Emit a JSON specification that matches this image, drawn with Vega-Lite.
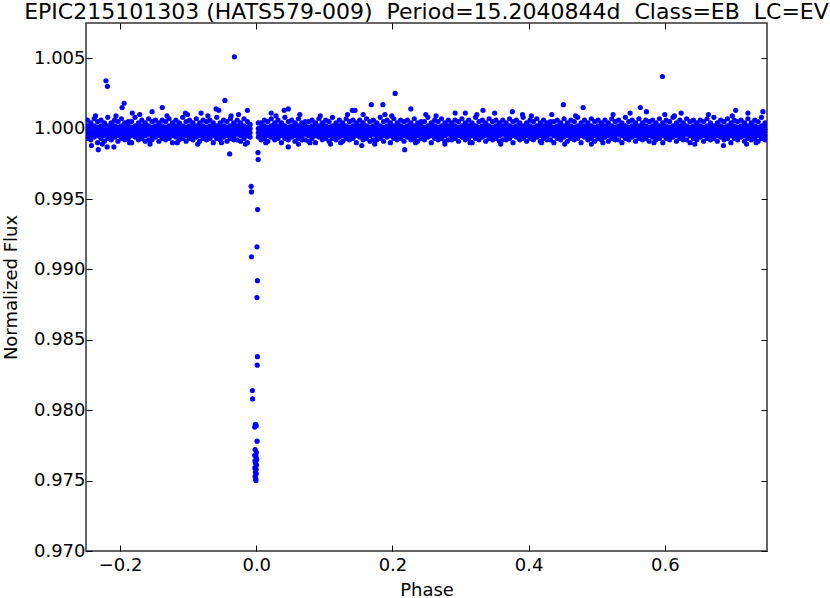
{
"$schema":"https://vega.github.io/schema/vega-lite/v6.json",
"width":681,"height":528,"autosize":"none",
"padding":{"left":86,"top":23,"right":63,"bottom":47},
"background":"white",
"title":{"text":"EPIC215101303 (HATS579-009) \u00a0Period=15.2040844d \u00a0Class=EB \u00a0LC=EV","font":"DejaVu Sans","fontSize":22,"fontWeight":"normal","color":"black","anchor":"middle","frame":"group","baseline":"alphabetic","offset":6,"dy":24},
"config":{"view":{"stroke":"#333333","strokeWidth":1.5},
"axis":{"domain":false,"grid":false,"tickColor":"black","tickSize":-6,"tickWidth":1,"labelFont":"DejaVu Sans","labelFontSize":18,"labelColor":"black","titleFont":"DejaVu Sans","titleFontSize":18,"titleFontWeight":"normal","titleColor":"black"}},
"datasets":{
"frame":[{"x":0.25,"y":1.0}],
"pts":[
{"x":-0.248,"y":1.0006},{"x":-0.248,"y":1.0002},{"x":-0.248,"y":0.9999},{"x":-0.248,"y":0.9996},{"x":-0.248,"y":0.9993},
{"x":-0.243,"y":1.0004},{"x":-0.243,"y":1.0001},{"x":-0.243,"y":0.9998},{"x":-0.243,"y":0.9995},{"x":-0.243,"y":0.9992},
{"x":-0.238,"y":1.0007},{"x":-0.238,"y":1.0002},{"x":-0.238,"y":0.9999},{"x":-0.238,"y":0.9996},{"x":-0.238,"y":0.9994},
{"x":-0.233,"y":1.0005},{"x":-0.233,"y":1.0001},{"x":-0.233,"y":0.9998},{"x":-0.233,"y":0.9995},{"x":-0.233,"y":0.9990},
{"x":-0.228,"y":1.0006},{"x":-0.228,"y":1.0002},{"x":-0.228,"y":0.9999},{"x":-0.228,"y":0.9996},{"x":-0.228,"y":0.9993},
{"x":-0.223,"y":1.0004},{"x":-0.223,"y":1.0001},{"x":-0.223,"y":0.9998},{"x":-0.223,"y":0.9995},{"x":-0.223,"y":0.9991},
{"x":-0.218,"y":1.0008},{"x":-0.218,"y":1.0002},{"x":-0.218,"y":0.9999},{"x":-0.218,"y":0.9996},{"x":-0.218,"y":0.9993},
{"x":-0.213,"y":1.0004},{"x":-0.213,"y":1.0001},{"x":-0.213,"y":0.9998},{"x":-0.213,"y":0.9995},{"x":-0.213,"y":0.9992},
{"x":-0.208,"y":1.0006},{"x":-0.208,"y":1.0002},{"x":-0.208,"y":0.9999},{"x":-0.208,"y":0.9996},{"x":-0.208,"y":0.9994},
{"x":-0.203,"y":1.0005},{"x":-0.203,"y":1.0001},{"x":-0.203,"y":0.9998},{"x":-0.203,"y":0.9995},{"x":-0.203,"y":0.9991},
{"x":-0.198,"y":1.0007},{"x":-0.198,"y":1.0002},{"x":-0.198,"y":0.9999},{"x":-0.198,"y":0.9996},{"x":-0.198,"y":0.9993},
{"x":-0.193,"y":1.0004},{"x":-0.193,"y":1.0001},{"x":-0.193,"y":0.9998},{"x":-0.193,"y":0.9995},{"x":-0.193,"y":0.9992},
{"x":-0.188,"y":1.0005},{"x":-0.188,"y":1.0002},{"x":-0.188,"y":0.9999},{"x":-0.188,"y":0.9996},{"x":-0.188,"y":0.9993},
{"x":-0.183,"y":1.0005},{"x":-0.183,"y":1.0001},{"x":-0.183,"y":0.9998},{"x":-0.183,"y":0.9995},{"x":-0.183,"y":0.9990},
{"x":-0.178,"y":1.0008},{"x":-0.178,"y":1.0002},{"x":-0.178,"y":0.9999},{"x":-0.178,"y":0.9996},{"x":-0.178,"y":0.9994},
{"x":-0.173,"y":1.0004},{"x":-0.173,"y":1.0001},{"x":-0.173,"y":0.9998},{"x":-0.173,"y":0.9995},{"x":-0.173,"y":0.9992},
{"x":-0.168,"y":1.0006},{"x":-0.168,"y":1.0002},{"x":-0.168,"y":0.9999},{"x":-0.168,"y":0.9996},{"x":-0.168,"y":0.9993},
{"x":-0.163,"y":1.0004},{"x":-0.163,"y":1.0001},{"x":-0.163,"y":0.9998},{"x":-0.163,"y":0.9995},{"x":-0.163,"y":0.9991},
{"x":-0.158,"y":1.0007},{"x":-0.158,"y":1.0002},{"x":-0.158,"y":0.9999},{"x":-0.158,"y":0.9996},{"x":-0.158,"y":0.9992},
{"x":-0.153,"y":1.0005},{"x":-0.153,"y":1.0001},{"x":-0.153,"y":0.9998},{"x":-0.153,"y":0.9995},{"x":-0.153,"y":0.9992},
{"x":-0.148,"y":1.0006},{"x":-0.148,"y":1.0002},{"x":-0.148,"y":0.9999},{"x":-0.148,"y":0.9996},{"x":-0.148,"y":0.9994},
{"x":-0.143,"y":1.0004},{"x":-0.143,"y":1.0001},{"x":-0.143,"y":0.9998},{"x":-0.143,"y":0.9995},{"x":-0.143,"y":0.9991},
{"x":-0.138,"y":1.0006},{"x":-0.138,"y":1.0002},{"x":-0.138,"y":0.9999},{"x":-0.138,"y":0.9996},{"x":-0.138,"y":0.9993},
{"x":-0.133,"y":1.0005},{"x":-0.133,"y":1.0001},{"x":-0.133,"y":0.9998},{"x":-0.133,"y":0.9995},{"x":-0.133,"y":0.9992},
{"x":-0.128,"y":1.0007},{"x":-0.128,"y":1.0002},{"x":-0.128,"y":0.9999},{"x":-0.128,"y":0.9996},{"x":-0.128,"y":0.9993},
{"x":-0.123,"y":1.0004},{"x":-0.123,"y":1.0001},{"x":-0.123,"y":0.9998},{"x":-0.123,"y":0.9995},{"x":-0.123,"y":0.9990},
{"x":-0.118,"y":1.0006},{"x":-0.118,"y":1.0002},{"x":-0.118,"y":0.9999},{"x":-0.118,"y":0.9996},{"x":-0.118,"y":0.9994},
{"x":-0.113,"y":1.0004},{"x":-0.113,"y":1.0001},{"x":-0.113,"y":0.9998},{"x":-0.113,"y":0.9995},{"x":-0.113,"y":0.9992},
{"x":-0.108,"y":1.0008},{"x":-0.108,"y":1.0002},{"x":-0.108,"y":0.9999},{"x":-0.108,"y":0.9996},{"x":-0.108,"y":0.9993},
{"x":-0.103,"y":1.0005},{"x":-0.103,"y":1.0001},{"x":-0.103,"y":0.9998},{"x":-0.103,"y":0.9995},{"x":-0.103,"y":0.9991},
{"x":-0.098,"y":1.0006},{"x":-0.098,"y":1.0002},{"x":-0.098,"y":0.9999},{"x":-0.098,"y":0.9996},{"x":-0.098,"y":0.9993},
{"x":-0.093,"y":1.0004},{"x":-0.093,"y":1.0001},{"x":-0.093,"y":0.9998},{"x":-0.093,"y":0.9995},{"x":-0.093,"y":0.9992},
{"x":-0.088,"y":1.0007},{"x":-0.088,"y":1.0002},{"x":-0.088,"y":0.9999},{"x":-0.088,"y":0.9996},{"x":-0.088,"y":0.9994},
{"x":-0.083,"y":1.0004},{"x":-0.083,"y":1.0001},{"x":-0.083,"y":0.9998},{"x":-0.083,"y":0.9995},{"x":-0.083,"y":0.9991},
{"x":-0.078,"y":1.0006},{"x":-0.078,"y":1.0002},{"x":-0.078,"y":0.9999},{"x":-0.078,"y":0.9996},{"x":-0.078,"y":0.9993},
{"x":-0.073,"y":1.0005},{"x":-0.073,"y":1.0001},{"x":-0.073,"y":0.9998},{"x":-0.073,"y":0.9995},{"x":-0.073,"y":0.9992},
{"x":-0.068,"y":1.0006},{"x":-0.068,"y":1.0002},{"x":-0.068,"y":0.9999},{"x":-0.068,"y":0.9996},{"x":-0.068,"y":0.9993},
{"x":-0.063,"y":1.0004},{"x":-0.063,"y":1.0001},{"x":-0.063,"y":0.9998},{"x":-0.063,"y":0.9995},{"x":-0.063,"y":0.9990},
{"x":-0.058,"y":1.0008},{"x":-0.058,"y":1.0002},{"x":-0.058,"y":0.9999},{"x":-0.058,"y":0.9996},{"x":-0.058,"y":0.9993},
{"x":-0.053,"y":1.0004},{"x":-0.053,"y":1.0001},{"x":-0.053,"y":0.9998},{"x":-0.053,"y":0.9995},{"x":-0.053,"y":0.9992},
{"x":-0.048,"y":1.0006},{"x":-0.048,"y":1.0002},{"x":-0.048,"y":0.9999},{"x":-0.048,"y":0.9996},{"x":-0.048,"y":0.9994},
{"x":-0.043,"y":1.0005},{"x":-0.043,"y":1.0001},{"x":-0.043,"y":0.9998},{"x":-0.043,"y":0.9995},{"x":-0.043,"y":0.9991},
{"x":-0.038,"y":1.0007},{"x":-0.038,"y":1.0002},{"x":-0.038,"y":0.9999},{"x":-0.038,"y":0.9996},{"x":-0.038,"y":0.9993},
{"x":-0.033,"y":1.0004},{"x":-0.033,"y":1.0001},{"x":-0.033,"y":0.9998},{"x":-0.033,"y":0.9995},{"x":-0.033,"y":0.9992},
{"x":-0.028,"y":1.0006},{"x":-0.028,"y":1.0002},{"x":-0.028,"y":0.9999},{"x":-0.028,"y":0.9996},{"x":-0.028,"y":0.9992},
{"x":-0.023,"y":1.0004},{"x":-0.023,"y":1.0001},{"x":-0.023,"y":0.9998},{"x":-0.023,"y":0.9995},{"x":-0.023,"y":0.9991},
{"x":-0.018,"y":1.0007},{"x":-0.018,"y":1.0002},{"x":-0.018,"y":0.9999},{"x":-0.018,"y":0.9996},{"x":-0.018,"y":0.9993},
{"x":-0.013,"y":1.0005},{"x":-0.013,"y":1.0001},{"x":-0.013,"y":0.9998},{"x":-0.013,"y":0.9995},{"x":-0.013,"y":0.9990},
{"x":-0.009,"y":1.0003},{"x":-0.009,"y":1.0000},{"x":-0.009,"y":0.9997},{"x":-0.009,"y":0.9994},
{"x":0.003,"y":1.0004},{"x":0.003,"y":1.0000},{"x":0.003,"y":0.9997},{"x":0.003,"y":0.9994},
{"x":0.007,"y":1.0004},{"x":0.007,"y":1.0001},{"x":0.007,"y":0.9998},{"x":0.007,"y":0.9995},{"x":0.007,"y":0.9992},
{"x":0.012,"y":1.0006},{"x":0.012,"y":1.0002},{"x":0.012,"y":0.9999},{"x":0.012,"y":0.9996},{"x":0.012,"y":0.9993},
{"x":0.017,"y":1.0005},{"x":0.017,"y":1.0001},{"x":0.017,"y":0.9998},{"x":0.017,"y":0.9995},{"x":0.017,"y":0.9991},
{"x":0.022,"y":1.0007},{"x":0.022,"y":1.0002},{"x":0.022,"y":0.9999},{"x":0.022,"y":0.9996},{"x":0.022,"y":0.9994},
{"x":0.027,"y":1.0004},{"x":0.027,"y":1.0001},{"x":0.027,"y":0.9998},{"x":0.027,"y":0.9995},{"x":0.027,"y":0.9992},
{"x":0.032,"y":1.0006},{"x":0.032,"y":1.0002},{"x":0.032,"y":0.9999},{"x":0.032,"y":0.9996},{"x":0.032,"y":0.9993},
{"x":0.037,"y":1.0004},{"x":0.037,"y":1.0001},{"x":0.037,"y":0.9998},{"x":0.037,"y":0.9995},{"x":0.037,"y":0.9990},
{"x":0.042,"y":1.0008},{"x":0.042,"y":1.0002},{"x":0.042,"y":0.9999},{"x":0.042,"y":0.9996},{"x":0.042,"y":0.9993},
{"x":0.047,"y":1.0005},{"x":0.047,"y":1.0001},{"x":0.047,"y":0.9998},{"x":0.047,"y":0.9995},{"x":0.047,"y":0.9992},
{"x":0.052,"y":1.0006},{"x":0.052,"y":1.0002},{"x":0.052,"y":0.9999},{"x":0.052,"y":0.9996},{"x":0.052,"y":0.9994},
{"x":0.057,"y":1.0004},{"x":0.057,"y":1.0001},{"x":0.057,"y":0.9998},{"x":0.057,"y":0.9995},{"x":0.057,"y":0.9991},
{"x":0.062,"y":1.0007},{"x":0.062,"y":1.0002},{"x":0.062,"y":0.9999},{"x":0.062,"y":0.9996},{"x":0.062,"y":0.9993},
{"x":0.067,"y":1.0004},{"x":0.067,"y":1.0001},{"x":0.067,"y":0.9998},{"x":0.067,"y":0.9995},{"x":0.067,"y":0.9992},
{"x":0.072,"y":1.0005},{"x":0.072,"y":1.0002},{"x":0.072,"y":0.9999},{"x":0.072,"y":0.9996},{"x":0.072,"y":0.9992},
{"x":0.077,"y":1.0005},{"x":0.077,"y":1.0001},{"x":0.077,"y":0.9998},{"x":0.077,"y":0.9995},{"x":0.077,"y":0.9991},
{"x":0.082,"y":1.0006},{"x":0.082,"y":1.0002},{"x":0.082,"y":0.9999},{"x":0.082,"y":0.9996},{"x":0.082,"y":0.9993},
{"x":0.087,"y":1.0004},{"x":0.087,"y":1.0001},{"x":0.087,"y":0.9998},{"x":0.087,"y":0.9995},{"x":0.087,"y":0.9990},
{"x":0.092,"y":1.0007},{"x":0.092,"y":1.0002},{"x":0.092,"y":0.9999},{"x":0.092,"y":0.9996},{"x":0.092,"y":0.9994},
{"x":0.097,"y":1.0004},{"x":0.097,"y":1.0001},{"x":0.097,"y":0.9998},{"x":0.097,"y":0.9995},{"x":0.097,"y":0.9992},
{"x":0.102,"y":1.0006},{"x":0.102,"y":1.0002},{"x":0.102,"y":0.9999},{"x":0.102,"y":0.9996},{"x":0.102,"y":0.9993},
{"x":0.107,"y":1.0005},{"x":0.107,"y":1.0001},{"x":0.107,"y":0.9998},{"x":0.107,"y":0.9995},{"x":0.107,"y":0.9991},
{"x":0.112,"y":1.0008},{"x":0.112,"y":1.0002},{"x":0.112,"y":0.9999},{"x":0.112,"y":0.9996},{"x":0.112,"y":0.9993},
{"x":0.117,"y":1.0004},{"x":0.117,"y":1.0001},{"x":0.117,"y":0.9998},{"x":0.117,"y":0.9995},{"x":0.117,"y":0.9992},
{"x":0.122,"y":1.0006},{"x":0.122,"y":1.0002},{"x":0.122,"y":0.9999},{"x":0.122,"y":0.9996},{"x":0.122,"y":0.9994},
{"x":0.127,"y":1.0004},{"x":0.127,"y":1.0001},{"x":0.127,"y":0.9998},{"x":0.127,"y":0.9995},{"x":0.127,"y":0.9991},
{"x":0.132,"y":1.0007},{"x":0.132,"y":1.0002},{"x":0.132,"y":0.9999},{"x":0.132,"y":0.9996},{"x":0.132,"y":0.9993},
{"x":0.137,"y":1.0005},{"x":0.137,"y":1.0001},{"x":0.137,"y":0.9998},{"x":0.137,"y":0.9995},{"x":0.137,"y":0.9992},
{"x":0.142,"y":1.0006},{"x":0.142,"y":1.0002},{"x":0.142,"y":0.9999},{"x":0.142,"y":0.9996},{"x":0.142,"y":0.9993},
{"x":0.147,"y":1.0004},{"x":0.147,"y":1.0001},{"x":0.147,"y":0.9998},{"x":0.147,"y":0.9995},{"x":0.147,"y":0.9990},
{"x":0.152,"y":1.0006},{"x":0.152,"y":1.0002},{"x":0.152,"y":0.9999},{"x":0.152,"y":0.9996},{"x":0.152,"y":0.9994},
{"x":0.157,"y":1.0004},{"x":0.157,"y":1.0001},{"x":0.157,"y":0.9998},{"x":0.157,"y":0.9995},{"x":0.157,"y":0.9992},
{"x":0.162,"y":1.0007},{"x":0.162,"y":1.0002},{"x":0.162,"y":0.9999},{"x":0.162,"y":0.9996},{"x":0.162,"y":0.9993},
{"x":0.167,"y":1.0005},{"x":0.167,"y":1.0001},{"x":0.167,"y":0.9998},{"x":0.167,"y":0.9995},{"x":0.167,"y":0.9991},
{"x":0.172,"y":1.0006},{"x":0.172,"y":1.0002},{"x":0.172,"y":0.9999},{"x":0.172,"y":0.9996},{"x":0.172,"y":0.9992},
{"x":0.177,"y":1.0004},{"x":0.177,"y":1.0001},{"x":0.177,"y":0.9998},{"x":0.177,"y":0.9995},{"x":0.177,"y":0.9992},
{"x":0.182,"y":1.0008},{"x":0.182,"y":1.0002},{"x":0.182,"y":0.9999},{"x":0.182,"y":0.9996},{"x":0.182,"y":0.9993},
{"x":0.187,"y":1.0005},{"x":0.187,"y":1.0001},{"x":0.187,"y":0.9998},{"x":0.187,"y":0.9995},{"x":0.187,"y":0.9991},
{"x":0.192,"y":1.0006},{"x":0.192,"y":1.0002},{"x":0.192,"y":0.9999},{"x":0.192,"y":0.9996},{"x":0.192,"y":0.9994},
{"x":0.197,"y":1.0004},{"x":0.197,"y":1.0001},{"x":0.197,"y":0.9998},{"x":0.197,"y":0.9995},{"x":0.197,"y":0.9990},
{"x":0.202,"y":1.0007},{"x":0.202,"y":1.0002},{"x":0.202,"y":0.9999},{"x":0.202,"y":0.9996},{"x":0.202,"y":0.9993},
{"x":0.207,"y":1.0004},{"x":0.207,"y":1.0001},{"x":0.207,"y":0.9998},{"x":0.207,"y":0.9995},{"x":0.207,"y":0.9992},
{"x":0.212,"y":1.0006},{"x":0.212,"y":1.0002},{"x":0.212,"y":0.9999},{"x":0.212,"y":0.9996},{"x":0.212,"y":0.9993},
{"x":0.217,"y":1.0005},{"x":0.217,"y":1.0001},{"x":0.217,"y":0.9998},{"x":0.217,"y":0.9995},{"x":0.217,"y":0.9991},
{"x":0.222,"y":1.0006},{"x":0.222,"y":1.0002},{"x":0.222,"y":0.9999},{"x":0.222,"y":0.9996},{"x":0.222,"y":0.9994},
{"x":0.227,"y":1.0004},{"x":0.227,"y":1.0001},{"x":0.227,"y":0.9998},{"x":0.227,"y":0.9995},{"x":0.227,"y":0.9992},
{"x":0.232,"y":1.0007},{"x":0.232,"y":1.0002},{"x":0.232,"y":0.9999},{"x":0.232,"y":0.9996},{"x":0.232,"y":0.9993},
{"x":0.237,"y":1.0004},{"x":0.237,"y":1.0001},{"x":0.237,"y":0.9998},{"x":0.237,"y":0.9995},{"x":0.237,"y":0.9991},
{"x":0.242,"y":1.0005},{"x":0.242,"y":1.0002},{"x":0.242,"y":0.9999},{"x":0.242,"y":0.9996},{"x":0.242,"y":0.9993},
{"x":0.247,"y":1.0005},{"x":0.247,"y":1.0001},{"x":0.247,"y":0.9998},{"x":0.247,"y":0.9995},{"x":0.247,"y":0.9992},
{"x":0.252,"y":1.0008},{"x":0.252,"y":1.0002},{"x":0.252,"y":0.9999},{"x":0.252,"y":0.9996},{"x":0.252,"y":0.9994},
{"x":0.257,"y":1.0004},{"x":0.257,"y":1.0001},{"x":0.257,"y":0.9998},{"x":0.257,"y":0.9995},{"x":0.257,"y":0.9990},
{"x":0.262,"y":1.0006},{"x":0.262,"y":1.0002},{"x":0.262,"y":0.9999},{"x":0.262,"y":0.9996},{"x":0.262,"y":0.9993},
{"x":0.267,"y":1.0005},{"x":0.267,"y":1.0001},{"x":0.267,"y":0.9998},{"x":0.267,"y":0.9995},{"x":0.267,"y":0.9992},
{"x":0.272,"y":1.0007},{"x":0.272,"y":1.0002},{"x":0.272,"y":0.9999},{"x":0.272,"y":0.9996},{"x":0.272,"y":0.9993},
{"x":0.277,"y":1.0004},{"x":0.277,"y":1.0001},{"x":0.277,"y":0.9998},{"x":0.277,"y":0.9995},{"x":0.277,"y":0.9991},
{"x":0.282,"y":1.0006},{"x":0.282,"y":1.0002},{"x":0.282,"y":0.9999},{"x":0.282,"y":0.9996},{"x":0.282,"y":0.9992},
{"x":0.287,"y":1.0004},{"x":0.287,"y":1.0001},{"x":0.287,"y":0.9998},{"x":0.287,"y":0.9995},{"x":0.287,"y":0.9992},
{"x":0.292,"y":1.0006},{"x":0.292,"y":1.0002},{"x":0.292,"y":0.9999},{"x":0.292,"y":0.9996},{"x":0.292,"y":0.9993},
{"x":0.297,"y":1.0005},{"x":0.297,"y":1.0001},{"x":0.297,"y":0.9998},{"x":0.297,"y":0.9995},{"x":0.297,"y":0.9991},
{"x":0.302,"y":1.0007},{"x":0.302,"y":1.0002},{"x":0.302,"y":0.9999},{"x":0.302,"y":0.9996},{"x":0.302,"y":0.9994},
{"x":0.307,"y":1.0004},{"x":0.307,"y":1.0001},{"x":0.307,"y":0.9998},{"x":0.307,"y":0.9995},{"x":0.307,"y":0.9992},
{"x":0.312,"y":1.0006},{"x":0.312,"y":1.0002},{"x":0.312,"y":0.9999},{"x":0.312,"y":0.9996},{"x":0.312,"y":0.9993},
{"x":0.317,"y":1.0004},{"x":0.317,"y":1.0001},{"x":0.317,"y":0.9998},{"x":0.317,"y":0.9995},{"x":0.317,"y":0.9990},
{"x":0.322,"y":1.0008},{"x":0.322,"y":1.0002},{"x":0.322,"y":0.9999},{"x":0.322,"y":0.9996},{"x":0.322,"y":0.9993},
{"x":0.327,"y":1.0005},{"x":0.327,"y":1.0001},{"x":0.327,"y":0.9998},{"x":0.327,"y":0.9995},{"x":0.327,"y":0.9992},
{"x":0.332,"y":1.0006},{"x":0.332,"y":1.0002},{"x":0.332,"y":0.9999},{"x":0.332,"y":0.9996},{"x":0.332,"y":0.9994},
{"x":0.337,"y":1.0004},{"x":0.337,"y":1.0001},{"x":0.337,"y":0.9998},{"x":0.337,"y":0.9995},{"x":0.337,"y":0.9991},
{"x":0.342,"y":1.0007},{"x":0.342,"y":1.0002},{"x":0.342,"y":0.9999},{"x":0.342,"y":0.9996},{"x":0.342,"y":0.9993},
{"x":0.347,"y":1.0005},{"x":0.347,"y":1.0001},{"x":0.347,"y":0.9998},{"x":0.347,"y":0.9995},{"x":0.347,"y":0.9992},
{"x":0.352,"y":1.0006},{"x":0.352,"y":1.0002},{"x":0.352,"y":0.9999},{"x":0.352,"y":0.9996},{"x":0.352,"y":0.9993},
{"x":0.357,"y":1.0004},{"x":0.357,"y":1.0001},{"x":0.357,"y":0.9998},{"x":0.357,"y":0.9995},{"x":0.357,"y":0.9991},
{"x":0.362,"y":1.0006},{"x":0.362,"y":1.0002},{"x":0.362,"y":0.9999},{"x":0.362,"y":0.9996},{"x":0.362,"y":0.9992},
{"x":0.367,"y":1.0004},{"x":0.367,"y":1.0001},{"x":0.367,"y":0.9998},{"x":0.367,"y":0.9995},{"x":0.367,"y":0.9992},
{"x":0.372,"y":1.0007},{"x":0.372,"y":1.0002},{"x":0.372,"y":0.9999},{"x":0.372,"y":0.9996},{"x":0.372,"y":0.9993},
{"x":0.377,"y":1.0005},{"x":0.377,"y":1.0001},{"x":0.377,"y":0.9998},{"x":0.377,"y":0.9995},{"x":0.377,"y":0.9990},
{"x":0.382,"y":1.0006},{"x":0.382,"y":1.0002},{"x":0.382,"y":0.9999},{"x":0.382,"y":0.9996},{"x":0.382,"y":0.9994},
{"x":0.387,"y":1.0004},{"x":0.387,"y":1.0001},{"x":0.387,"y":0.9998},{"x":0.387,"y":0.9995},{"x":0.387,"y":0.9992},
{"x":0.392,"y":1.0008},{"x":0.392,"y":1.0002},{"x":0.392,"y":0.9999},{"x":0.392,"y":0.9996},{"x":0.392,"y":0.9993},
{"x":0.397,"y":1.0004},{"x":0.397,"y":1.0001},{"x":0.397,"y":0.9998},{"x":0.397,"y":0.9995},{"x":0.397,"y":0.9991},
{"x":0.402,"y":1.0006},{"x":0.402,"y":1.0002},{"x":0.402,"y":0.9999},{"x":0.402,"y":0.9996},{"x":0.402,"y":0.9993},
{"x":0.407,"y":1.0005},{"x":0.407,"y":1.0001},{"x":0.407,"y":0.9998},{"x":0.407,"y":0.9995},{"x":0.407,"y":0.9992},
{"x":0.412,"y":1.0007},{"x":0.412,"y":1.0002},{"x":0.412,"y":0.9999},{"x":0.412,"y":0.9996},{"x":0.412,"y":0.9994},
{"x":0.417,"y":1.0004},{"x":0.417,"y":1.0001},{"x":0.417,"y":0.9998},{"x":0.417,"y":0.9995},{"x":0.417,"y":0.9991},
{"x":0.422,"y":1.0006},{"x":0.422,"y":1.0002},{"x":0.422,"y":0.9999},{"x":0.422,"y":0.9996},{"x":0.422,"y":0.9993},
{"x":0.427,"y":1.0004},{"x":0.427,"y":1.0001},{"x":0.427,"y":0.9998},{"x":0.427,"y":0.9995},{"x":0.427,"y":0.9992},
{"x":0.432,"y":1.0005},{"x":0.432,"y":1.0002},{"x":0.432,"y":0.9999},{"x":0.432,"y":0.9996},{"x":0.432,"y":0.9992},
{"x":0.437,"y":1.0005},{"x":0.437,"y":1.0001},{"x":0.437,"y":0.9998},{"x":0.437,"y":0.9995},{"x":0.437,"y":0.9990},
{"x":0.442,"y":1.0006},{"x":0.442,"y":1.0002},{"x":0.442,"y":0.9999},{"x":0.442,"y":0.9996},{"x":0.442,"y":0.9993},
{"x":0.447,"y":1.0004},{"x":0.447,"y":1.0001},{"x":0.447,"y":0.9998},{"x":0.447,"y":0.9995},{"x":0.447,"y":0.9992},
{"x":0.452,"y":1.0007},{"x":0.452,"y":1.0002},{"x":0.452,"y":0.9999},{"x":0.452,"y":0.9996},{"x":0.452,"y":0.9994},
{"x":0.457,"y":1.0004},{"x":0.457,"y":1.0001},{"x":0.457,"y":0.9998},{"x":0.457,"y":0.9995},{"x":0.457,"y":0.9991},
{"x":0.462,"y":1.0006},{"x":0.462,"y":1.0002},{"x":0.462,"y":0.9999},{"x":0.462,"y":0.9996},{"x":0.462,"y":0.9993},
{"x":0.467,"y":1.0005},{"x":0.467,"y":1.0001},{"x":0.467,"y":0.9998},{"x":0.467,"y":0.9995},{"x":0.467,"y":0.9992},
{"x":0.472,"y":1.0008},{"x":0.472,"y":1.0002},{"x":0.472,"y":0.9999},{"x":0.472,"y":0.9996},{"x":0.472,"y":0.9993},
{"x":0.477,"y":1.0004},{"x":0.477,"y":1.0001},{"x":0.477,"y":0.9998},{"x":0.477,"y":0.9995},{"x":0.477,"y":0.9990},
{"x":0.482,"y":1.0006},{"x":0.482,"y":1.0002},{"x":0.482,"y":0.9999},{"x":0.482,"y":0.9996},{"x":0.482,"y":0.9994},
{"x":0.487,"y":1.0004},{"x":0.487,"y":1.0001},{"x":0.487,"y":0.9998},{"x":0.487,"y":0.9995},{"x":0.487,"y":0.9992},
{"x":0.492,"y":1.0007},{"x":0.492,"y":1.0002},{"x":0.492,"y":0.9999},{"x":0.492,"y":0.9996},{"x":0.492,"y":0.9993},
{"x":0.497,"y":1.0005},{"x":0.497,"y":1.0001},{"x":0.497,"y":0.9998},{"x":0.497,"y":0.9995},{"x":0.497,"y":0.9991},
{"x":0.502,"y":1.0006},{"x":0.502,"y":1.0002},{"x":0.502,"y":0.9999},{"x":0.502,"y":0.9996},{"x":0.502,"y":0.9993},
{"x":0.507,"y":1.0004},{"x":0.507,"y":1.0001},{"x":0.507,"y":0.9998},{"x":0.507,"y":0.9995},{"x":0.507,"y":0.9992},
{"x":0.512,"y":1.0006},{"x":0.512,"y":1.0002},{"x":0.512,"y":0.9999},{"x":0.512,"y":0.9996},{"x":0.512,"y":0.9994},
{"x":0.517,"y":1.0004},{"x":0.517,"y":1.0001},{"x":0.517,"y":0.9998},{"x":0.517,"y":0.9995},{"x":0.517,"y":0.9991},
{"x":0.522,"y":1.0007},{"x":0.522,"y":1.0002},{"x":0.522,"y":0.9999},{"x":0.522,"y":0.9996},{"x":0.522,"y":0.9993},
{"x":0.527,"y":1.0005},{"x":0.527,"y":1.0001},{"x":0.527,"y":0.9998},{"x":0.527,"y":0.9995},{"x":0.527,"y":0.9992},
{"x":0.532,"y":1.0006},{"x":0.532,"y":1.0002},{"x":0.532,"y":0.9999},{"x":0.532,"y":0.9996},{"x":0.532,"y":0.9992},
{"x":0.537,"y":1.0004},{"x":0.537,"y":1.0001},{"x":0.537,"y":0.9998},{"x":0.537,"y":0.9995},{"x":0.537,"y":0.9990},
{"x":0.542,"y":1.0008},{"x":0.542,"y":1.0002},{"x":0.542,"y":0.9999},{"x":0.542,"y":0.9996},{"x":0.542,"y":0.9993},
{"x":0.547,"y":1.0005},{"x":0.547,"y":1.0001},{"x":0.547,"y":0.9998},{"x":0.547,"y":0.9995},{"x":0.547,"y":0.9992},
{"x":0.552,"y":1.0006},{"x":0.552,"y":1.0002},{"x":0.552,"y":0.9999},{"x":0.552,"y":0.9996},{"x":0.552,"y":0.9994},
{"x":0.557,"y":1.0004},{"x":0.557,"y":1.0001},{"x":0.557,"y":0.9998},{"x":0.557,"y":0.9995},{"x":0.557,"y":0.9991},
{"x":0.562,"y":1.0007},{"x":0.562,"y":1.0002},{"x":0.562,"y":0.9999},{"x":0.562,"y":0.9996},{"x":0.562,"y":0.9993},
{"x":0.567,"y":1.0004},{"x":0.567,"y":1.0001},{"x":0.567,"y":0.9998},{"x":0.567,"y":0.9995},{"x":0.567,"y":0.9992},
{"x":0.572,"y":1.0006},{"x":0.572,"y":1.0002},{"x":0.572,"y":0.9999},{"x":0.572,"y":0.9996},{"x":0.572,"y":0.9993},
{"x":0.577,"y":1.0005},{"x":0.577,"y":1.0001},{"x":0.577,"y":0.9998},{"x":0.577,"y":0.9995},{"x":0.577,"y":0.9991},
{"x":0.582,"y":1.0006},{"x":0.582,"y":1.0002},{"x":0.582,"y":0.9999},{"x":0.582,"y":0.9996},{"x":0.582,"y":0.9994},
{"x":0.587,"y":1.0004},{"x":0.587,"y":1.0001},{"x":0.587,"y":0.9998},{"x":0.587,"y":0.9995},{"x":0.587,"y":0.9992},
{"x":0.592,"y":1.0007},{"x":0.592,"y":1.0002},{"x":0.592,"y":0.9999},{"x":0.592,"y":0.9996},{"x":0.592,"y":0.9993},
{"x":0.597,"y":1.0004},{"x":0.597,"y":1.0001},{"x":0.597,"y":0.9998},{"x":0.597,"y":0.9995},{"x":0.597,"y":0.9990},
{"x":0.602,"y":1.0006},{"x":0.602,"y":1.0002},{"x":0.602,"y":0.9999},{"x":0.602,"y":0.9996},{"x":0.602,"y":0.9993},
{"x":0.607,"y":1.0005},{"x":0.607,"y":1.0001},{"x":0.607,"y":0.9998},{"x":0.607,"y":0.9995},{"x":0.607,"y":0.9992},
{"x":0.612,"y":1.0008},{"x":0.612,"y":1.0002},{"x":0.612,"y":0.9999},{"x":0.612,"y":0.9996},{"x":0.612,"y":0.9994},
{"x":0.617,"y":1.0004},{"x":0.617,"y":1.0001},{"x":0.617,"y":0.9998},{"x":0.617,"y":0.9995},{"x":0.617,"y":0.9991},
{"x":0.622,"y":1.0006},{"x":0.622,"y":1.0002},{"x":0.622,"y":0.9999},{"x":0.622,"y":0.9996},{"x":0.622,"y":0.9993},
{"x":0.627,"y":1.0004},{"x":0.627,"y":1.0001},{"x":0.627,"y":0.9998},{"x":0.627,"y":0.9995},{"x":0.627,"y":0.9992},
{"x":0.632,"y":1.0007},{"x":0.632,"y":1.0002},{"x":0.632,"y":0.9999},{"x":0.632,"y":0.9996},{"x":0.632,"y":0.9992},
{"x":0.637,"y":1.0005},{"x":0.637,"y":1.0001},{"x":0.637,"y":0.9998},{"x":0.637,"y":0.9995},{"x":0.637,"y":0.9990},
{"x":0.642,"y":1.0006},{"x":0.642,"y":1.0002},{"x":0.642,"y":0.9999},{"x":0.642,"y":0.9996},{"x":0.642,"y":0.9993},
{"x":0.647,"y":1.0004},{"x":0.647,"y":1.0001},{"x":0.647,"y":0.9998},{"x":0.647,"y":0.9995},{"x":0.647,"y":0.9992},
{"x":0.652,"y":1.0006},{"x":0.652,"y":1.0002},{"x":0.652,"y":0.9999},{"x":0.652,"y":0.9996},{"x":0.652,"y":0.9994},
{"x":0.657,"y":1.0005},{"x":0.657,"y":1.0001},{"x":0.657,"y":0.9998},{"x":0.657,"y":0.9995},{"x":0.657,"y":0.9991},
{"x":0.662,"y":1.0007},{"x":0.662,"y":1.0002},{"x":0.662,"y":0.9999},{"x":0.662,"y":0.9996},{"x":0.662,"y":0.9993},
{"x":0.667,"y":1.0004},{"x":0.667,"y":1.0001},{"x":0.667,"y":0.9998},{"x":0.667,"y":0.9995},{"x":0.667,"y":0.9992},
{"x":0.672,"y":1.0008},{"x":0.672,"y":1.0002},{"x":0.672,"y":0.9999},{"x":0.672,"y":0.9996},{"x":0.672,"y":0.9993},
{"x":0.677,"y":1.0004},{"x":0.677,"y":1.0001},{"x":0.677,"y":0.9998},{"x":0.677,"y":0.9995},{"x":0.677,"y":0.9991},
{"x":0.682,"y":1.0006},{"x":0.682,"y":1.0002},{"x":0.682,"y":0.9999},{"x":0.682,"y":0.9996},{"x":0.682,"y":0.9994},
{"x":0.687,"y":1.0005},{"x":0.687,"y":1.0001},{"x":0.687,"y":0.9998},{"x":0.687,"y":0.9995},{"x":0.687,"y":0.9992},
{"x":0.692,"y":1.0007},{"x":0.692,"y":1.0002},{"x":0.692,"y":0.9999},{"x":0.692,"y":0.9996},{"x":0.692,"y":0.9993},
{"x":0.697,"y":1.0004},{"x":0.697,"y":1.0001},{"x":0.697,"y":0.9998},{"x":0.697,"y":0.9995},{"x":0.697,"y":0.9990},
{"x":0.702,"y":1.0006},{"x":0.702,"y":1.0002},{"x":0.702,"y":0.9999},{"x":0.702,"y":0.9996},{"x":0.702,"y":0.9993},
{"x":0.707,"y":1.0005},{"x":0.707,"y":1.0001},{"x":0.707,"y":0.9998},{"x":0.707,"y":0.9995},{"x":0.707,"y":0.9992},
{"x":0.712,"y":1.0006},{"x":0.712,"y":1.0002},{"x":0.712,"y":0.9999},{"x":0.712,"y":0.9996},{"x":0.712,"y":0.9994},
{"x":0.717,"y":1.0004},{"x":0.717,"y":1.0001},{"x":0.717,"y":0.9998},{"x":0.717,"y":0.9995},{"x":0.717,"y":0.9991},
{"x":0.722,"y":1.0007},{"x":0.722,"y":1.0002},{"x":0.722,"y":0.9999},{"x":0.722,"y":0.9996},{"x":0.722,"y":0.9993},
{"x":0.727,"y":1.0004},{"x":0.727,"y":1.0001},{"x":0.727,"y":0.9998},{"x":0.727,"y":0.9995},{"x":0.727,"y":0.9992},
{"x":0.732,"y":1.0006},{"x":0.732,"y":1.0002},{"x":0.732,"y":0.9999},{"x":0.732,"y":0.9996},{"x":0.732,"y":0.9993},
{"x":0.737,"y":1.0005},{"x":0.737,"y":1.0001},{"x":0.737,"y":0.9998},{"x":0.737,"y":0.9995},{"x":0.737,"y":0.9991},
{"x":0.742,"y":1.0008},{"x":0.742,"y":1.0002},{"x":0.742,"y":0.9999},{"x":0.742,"y":0.9996},{"x":0.742,"y":0.9993},
{"x":0.747,"y":1.0004},{"x":0.747,"y":1.0001},{"x":0.747,"y":0.9998},{"x":0.747,"y":0.9995},{"x":0.747,"y":0.9992},
{"x":-0.236,"y":1.0009},{"x":-0.226,"y":0.9989},{"x":-0.206,"y":1.0009},{"x":-0.186,"y":0.9990},{"x":-0.171,"y":1.0010},{"x":-0.156,"y":0.9989},{"x":-0.131,"y":1.0009},{"x":-0.116,"y":0.9990},{"x":-0.101,"y":1.0010},{"x":-0.086,"y":0.9989},{"x":-0.071,"y":1.0009},{"x":-0.051,"y":0.9990},{"x":-0.026,"y":1.0010},{"x":-0.016,"y":0.9989},
{"x":0.014,"y":0.9990},{"x":0.029,"y":1.0009},{"x":0.064,"y":1.0010},{"x":0.079,"y":0.9990},{"x":0.094,"y":1.0009},{"x":0.124,"y":0.9990},{"x":0.134,"y":1.0010},{"x":0.199,"y":1.0009},{"x":0.234,"y":0.9990},{"x":0.249,"y":1.0010},{"x":0.264,"y":1.0009},{"x":0.314,"y":0.9990},{"x":0.324,"y":1.0010},{"x":0.359,"y":0.9989},{"x":0.404,"y":1.0009},{"x":0.419,"y":0.9990},{"x":0.434,"y":1.0010},{"x":0.469,"y":1.0009},{"x":0.509,"y":0.9990},{"x":0.524,"y":1.0010},{"x":0.584,"y":0.9990},{"x":0.614,"y":1.0009},{"x":0.644,"y":0.9989},{"x":0.664,"y":1.0010},{"x":0.699,"y":1.0009},{"x":0.734,"y":0.9990},
{"x":-0.2207,"y":1.0034},{"x":-0.2185,"y":1.0030},{"x":-0.032,"y":1.0051},{"x":0.204,"y":1.0025},{"x":0.5965,"y":1.0037},
{"x":-0.197,"y":1.0015},{"x":-0.194,"y":1.0018},{"x":-0.138,"y":1.0015},{"x":-0.046,"y":1.0020},{"x":-0.059,"y":1.0014},{"x":-0.055,"y":1.0013},{"x":-0.013,"y":1.0013},{"x":-0.037,"y":1.0009},
{"x":-0.039,"y":0.9982},{"x":-0.232,"y":0.9985},{"x":-0.219,"y":0.9987},{"x":-0.209,"y":0.9987},{"x":-0.242,"y":0.9988},
{"x":-0.182,"y":1.0011},{"x":-0.153,"y":1.0012},{"x":-0.104,"y":1.0011},{"x":-0.081,"y":1.0011},
{"x":0.169,"y":1.0017},{"x":0.186,"y":1.0017},{"x":0.189,"y":1.0010},{"x":0.157,"y":1.0010},{"x":0.141,"y":1.0013},{"x":0.145,"y":1.0013},{"x":0.022,"y":1.0011},{"x":0.041,"y":1.0013},{"x":0.047,"y":1.0014},{"x":0.227,"y":1.0014},
{"x":0.218,"y":0.9985},{"x":0.047,"y":0.9987},{"x":0.062,"y":0.9989},{"x":0.109,"y":0.9989},{"x":0.155,"y":0.9988},{"x":0.174,"y":0.9989},{"x":0.277,"y":0.9989},
{"x":0.451,"y":1.0017},{"x":0.480,"y":1.0015},{"x":0.549,"y":1.0011},{"x":0.564,"y":1.0015},{"x":0.573,"y":1.0012},{"x":0.600,"y":1.0010},{"x":0.624,"y":1.0011},{"x":0.704,"y":1.0013},{"x":0.722,"y":1.0011},{"x":0.744,"y":1.0012},
{"x":0.453,"y":0.9989},{"x":0.492,"y":0.9989},{"x":0.686,"y":0.9988},{"x":0.720,"y":0.9989},
{"x":0.350,"y":1.0011},{"x":0.333,"y":1.0013},{"x":0.376,"y":1.0012},{"x":0.391,"y":1.0010},{"x":0.307,"y":1.0011},{"x":0.292,"y":1.0011},
{"x":0.0025,"y":0.9983},{"x":0.0028,"y":0.9978},{"x":-0.0075,"y":0.9959},{"x":-0.007,"y":0.9955},{"x":0.002,"y":0.99425},{"x":0.001,"y":0.9916},{"x":-0.007,"y":0.9909},{"x":0.0017,"y":0.9892},{"x":0.001,"y":0.9880},{"x":0.0017,"y":0.9838},{"x":0.0014,"y":0.9832},{"x":-0.0057,"y":0.9814},{"x":-0.0054,"y":0.9808},{"x":-0.0012,"y":0.9790},{"x":-0.0022,"y":0.9788},{"x":0.0,"y":0.9789},{"x":0.0012,"y":0.9778},
{"x":-0.0016,"y":0.9772},{"x":0.0003,"y":0.9770},{"x":-0.0022,"y":0.9768},{"x":-0.0004,"y":0.9767},{"x":0.0008,"y":0.9765},{"x":-0.0019,"y":0.9764},{"x":-0.0008,"y":0.9762},{"x":0.0004,"y":0.9761},{"x":-0.0021,"y":0.9759},{"x":-0.0002,"y":0.9758},{"x":-0.0012,"y":0.9756},{"x":0.0,"y":0.9755},{"x":-0.0016,"y":0.9753},{"x":-0.0007,"y":0.9751},{"x":-0.0004,"y":0.9750}
]},
"layer":[
{"data":{"name":"pts"},
"mark":{"type":"circle","size":27,"color":"#0000ff","opacity":1,"clip":true},
"encoding":{
"x":{"field":"x","type":"quantitative","scale":{"domain":[-0.25,0.75],"nice":false,"zero":false},"axis":{"orient":"bottom","values":[-0.2,0,0.2,0.4,0.6],"format":".1f","labelPadding":11,"title":"Phase","titlePadding":7}},
"y":{"field":"y","type":"quantitative","scale":{"domain":[0.97,1.0075],"nice":false,"zero":false},"axis":{"orient":"left","values":[0.97,0.975,0.98,0.985,0.99,0.995,1.0,1.005],"format":".3f","labelPadding":7,"title":"Normalized Flux","titlePadding":13}}}},
{"data":{"name":"frame"},
"mark":{"type":"circle","opacity":0},
"encoding":{
"x":{"field":"x","type":"quantitative","scale":{"domain":[-0.25,0.75],"nice":false,"zero":false},"axis":{"orient":"top","values":[-0.2,0,0.2,0.4,0.6],"labels":false,"title":null}},
"y":{"field":"y","type":"quantitative","scale":{"domain":[0.97,1.0075],"nice":false,"zero":false},"axis":{"orient":"right","values":[0.97,0.975,0.98,0.985,0.99,0.995,1.0,1.005],"labels":false,"title":null}}}}
],
"resolve":{"axis":{"x":"independent","y":"independent"}}
}
